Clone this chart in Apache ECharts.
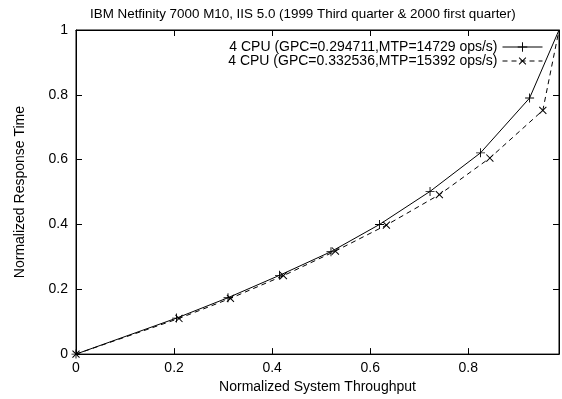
<!DOCTYPE html>
<html>
<head>
<meta charset="utf-8">
<script src="https://cdn.jsdelivr.net/npm/echarts@6/dist/echarts.min.js"></script>
<style>
  html, body { margin: 0; padding: 0; background: #fff; }
  #chart { width: 562px; height: 399px; }
</style>
</head>
<body>
<div id="chart"></div>
<script>
// data
const seriesNames = [
  '4 CPU (GPC=0.294711,MTP=14729 ops/s)',
  '4 CPU (GPC=0.332536,MTP=15392 ops/s)'
];
const xs1 = [0, 0.205, 0.31, 0.415, 0.52, 0.619, 0.722, 0.825, 0.925, 0.985];
const ys1 = [0, 0.111, 0.174, 0.243, 0.316, 0.400, 0.502, 0.621, 0.790, 1.0];
const xs2 = [0, 0.21, 0.315, 0.423, 0.529, 0.633, 0.741, 0.844, 0.952, 0.985];
const ys2 = [0, 0.110, 0.172, 0.242, 0.318, 0.398, 0.492, 0.605, 0.752, 1.0];
const xTicks = [0, 0.2, 0.4, 0.6, 0.8];
const yTicks = [0, 0.2, 0.4, 0.6, 0.8, 1];

// last point sits on the plot corner, no marker drawn there
const pair = (xs, ys) => xs.map((x, i) =>
  i === xs.length - 1 ? { value: [x, ys[i]], symbol: 'none' } : [x, ys[i]]);
const FONT = 'Liberation Sans';
// plus sign as a filled path; rotated 45 deg it becomes the cross
const PLUS = 'path://M4.5,0h1v10h-1z M0,4.5h10v1h-10z';

const chart = echarts.init(document.getElementById('chart'));

function axisCommon(extra) {
  return Object.assign({
    type: 'value',
    min: 0,
    interval: 0.2,
    axisLine: { show: true, onZero: false, lineStyle: { color: '#000', width: 1 } },
    axisTick: { show: true, inside: true, length: 6, lineStyle: { color: '#000' } },
    splitLine: { show: false }
  }, extra);
}

const fmt = function (ticks) {
  return function (v) {
    for (const t of ticks) if (Math.abs(v - t) < 1e-6) return String(t);
    return '';
  };
};

chart.setOption({
  animation: false,
  textStyle: { fontFamily: FONT, color: '#000' },
  title: {
    text: 'IBM Netfinity 7000 M10, IIS 5.0 (1999 Third quarter & 2000 first quarter)',
    left: 90,
    top: 8,
    padding: 0,
    textStyle: { fontFamily: FONT, fontSize: 13.4, fontWeight: 'normal', color: '#000' }
  },
  legend: {
    orient: 'vertical',
    align: 'right',
    right: 14,
    top: 35,
    itemWidth: 40,
    itemHeight: 12,
    itemGap: 0,
    lineStyle: { width: 1 },
    textStyle: { fontFamily: FONT, fontSize: 14, color: '#000' },
    data: seriesNames
  },
  grid: {
    left: 76, right: 1, top: 30, bottom: 36,
    show: true, borderColor: '#000', borderWidth: 1
  },
  xAxis: [
    axisCommon({
      max: 0.985,
      position: 'bottom',
      name: 'Normalized System Throughput',
      nameLocation: 'middle',
      nameGap: 19,
      nameTextStyle: { fontFamily: FONT, fontSize: 14, color: '#000' },
      axisLabel: { margin: 7, fontFamily: FONT, fontSize: 14, color: '#000', formatter: fmt(xTicks) }
    }),
    axisCommon({
      max: 0.985,
      position: 'top',
      axisLabel: { show: false }
    })
  ],
  yAxis: [
    axisCommon({
      max: 1,
      position: 'left',
      name: 'Normalized Response Time',
      nameLocation: 'middle',
      nameGap: 49,
      nameTextStyle: { fontFamily: FONT, fontSize: 14, color: '#000' },
      axisLabel: { margin: 8, fontFamily: FONT, fontSize: 14, color: '#000', formatter: fmt(yTicks) }
    }),
    axisCommon({
      max: 1,
      position: 'right',
      axisLabel: { show: false }
    })
  ],
  series: [
    {
      name: seriesNames[0],
      type: 'line',
      data: pair(xs1, ys1),
      symbol: PLUS,
      symbolSize: 9,
      itemStyle: { color: '#000' },
      lineStyle: { color: '#000', width: 1, type: 'solid' }
    },
    {
      name: seriesNames[1],
      type: 'line',
      data: pair(xs2, ys2),
      symbol: PLUS,
      symbolSize: 10,
      symbolRotate: 45,
      itemStyle: { color: '#000' },
      lineStyle: { color: '#000', width: 1, type: [5, 4] }
    }
  ]
});
</script>
</body>
</html>
